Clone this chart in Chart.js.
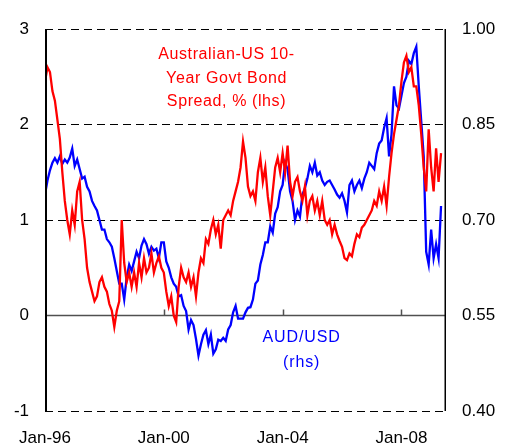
<!DOCTYPE html>
<html>
<head>
<meta charset="utf-8">
<script src="https://cdn.jsdelivr.net/npm/chart.js@4"></script>
<style>
html,body{margin:0;padding:0;background:#fff;}
#wrap{position:relative;width:513px;height:443px;}
</style>
</head>
<body>
<div id="wrap"><canvas id="c" width="513" height="443"></canvas></div>
<script>
// ---- data (monthly, starting Jan-1996) ----
const startYear = 1996;
const xTickYears = [1996, 2000, 2004, 2008];
const xTickLabels = ['Jan-96', 'Jan-00', 'Jan-04', 'Jan-08'];
const lhsTicks = [-1, 0, 1, 2, 3];
const rhsTicks = [0.40, 0.55, 0.70, 0.85, 1.00];

// Australian-US 10-year govt bond spread, % (lhs)
const spread = [
  2.45, 2.6, 2.55, 2.35, 2.25, 2.05, 1.85, 1.5, 1.2, 1.0, 0.85, 1.1,
  0.95, 1.3, 1.4, 1.0, 0.8, 0.5, 0.35, 0.25, 0.15, 0.2, 0.35, 0.4,
  0.3, 0.25, 0.12, 0.05, -0.12, 0.05, 0.15, 1.0, 0.55, 0.35, 0.45, 0.3,
  0.45, 0.3, 0.55, 0.4, 0.6, 0.45, 0.5, 0.65, 0.45, 0.55, 0.62, 0.5,
  0.45, 0.25, 0.1, 0.2, 0.0, -0.07, 0.3, 0.5, 0.4, 0.35, 0.45, 0.3,
  0.4, 0.2, 0.45, 0.6, 0.55, 0.8, 0.75, 0.9, 1.0, 0.85, 0.95, 0.7,
  1.0, 1.05, 1.1, 1.05, 1.2, 1.3, 1.4, 1.55, 1.82, 1.65, 1.35, 1.25,
  1.3, 1.2, 1.5, 1.65, 1.4, 1.55, 1.25, 1.05, 1.3, 1.55, 1.65, 1.5,
  1.7, 1.5, 1.78, 1.4, 1.25, 1.4, 1.45, 1.3, 1.2, 1.35, 1.05, 1.2,
  1.25, 1.1, 1.2, 1.05, 1.2, 1.0, 0.95, 1.0, 0.85, 0.95, 0.85, 0.78,
  0.72, 0.6, 0.58, 0.65, 0.62, 0.75, 0.85, 0.82, 0.92, 0.95, 1.0, 1.05,
  1.1, 1.2, 1.15, 1.3, 1.2, 1.35, 1.15, 1.45, 1.7, 1.9, 2.05, 2.2,
  2.45, 2.65, 2.72, 2.55, 2.6, 2.4, 2.4, 2.2, 1.9, 1.55, 1.3, 1.95,
  1.55, 1.3, 1.75, 1.4, 1.7
];

// AUD/USD (rhs)
const audusd = [
  0.740, 0.762, 0.778, 0.790, 0.797, 0.790, 0.800, 0.788, 0.795, 0.790, 0.798, 0.812,
  0.785, 0.795, 0.780, 0.765, 0.768, 0.752, 0.745, 0.730, 0.722, 0.715, 0.700, 0.685,
  0.685, 0.670, 0.665, 0.658, 0.640, 0.620, 0.600, 0.600, 0.575, 0.610, 0.630, 0.620,
  0.635, 0.650, 0.640, 0.660, 0.670, 0.662, 0.647, 0.658, 0.652, 0.655, 0.640, 0.665,
  0.665, 0.635, 0.625, 0.610, 0.600, 0.595, 0.580, 0.582, 0.565, 0.557, 0.528, 0.543,
  0.535, 0.513, 0.487, 0.505, 0.520, 0.527, 0.505, 0.520, 0.490, 0.497, 0.512, 0.510,
  0.515, 0.510, 0.528, 0.535, 0.555, 0.565, 0.545, 0.545, 0.545, 0.555, 0.562, 0.563,
  0.575, 0.600, 0.605, 0.630, 0.645, 0.665, 0.665, 0.690, 0.680, 0.710, 0.720, 0.745,
  0.755, 0.790, 0.780, 0.745, 0.730, 0.700, 0.715, 0.705, 0.740, 0.750, 0.765, 0.785,
  0.775, 0.790, 0.770, 0.775, 0.762, 0.755, 0.760, 0.762, 0.755, 0.748, 0.740, 0.735,
  0.742, 0.730, 0.712, 0.755, 0.762, 0.745, 0.755, 0.762, 0.750, 0.765, 0.775, 0.790,
  0.785, 0.780, 0.805, 0.820, 0.825, 0.845, 0.860, 0.800, 0.835, 0.910, 0.880, 0.875,
  0.895, 0.915, 0.925, 0.950, 0.945, 0.962, 0.972, 0.910, 0.855, 0.800, 0.650, 0.630,
  0.685, 0.640, 0.662, 0.640, 0.722
];

const spreadLabel = ['Australian-US 10-', 'Year Govt Bond', 'Spread, % (lhs)'];
const audLabel = ['AUD/USD', '(rhs)'];

// build point tables
const spreadPts = spread.map((v, i) => ({x: startYear + i / 12, y: v}));
const audPts = audusd.map((v, i) => ({x: startYear + i / 12, y: v}));

const FONT = "'Liberation Sans', Arial, sans-serif";

const decor = {
  id: 'decor',
  beforeDatasetsDraw(chart) {
    const {ctx, chartArea: a, scales: {x, y}} = chart;
    const y0 = y.getPixelForValue(0);
    ctx.save();
    ctx.strokeStyle = '#505050';
    ctx.lineWidth = 1.5;
    ctx.beginPath();
    ctx.moveTo(a.left, y0);
    ctx.lineTo(a.right, y0);
    xTickYears.slice(1).forEach(yr => {
      const px = Math.round(x.getPixelForValue(yr)) + 0.5;
      ctx.moveTo(px, y0);
      ctx.lineTo(px, y0 - 6);
    });
    ctx.stroke();
    ctx.restore();
  },
  afterDatasetsDraw(chart) {
    const {ctx, chartArea: a, scales: {x, y}} = chart;
    ctx.save();
    ctx.strokeStyle = '#000';
    ctx.lineWidth = 2;
    ctx.beginPath();
    ctx.moveTo(a.left + 1, a.top);
    ctx.lineTo(a.left + 1, a.bottom);
    ctx.stroke();
    ctx.lineWidth = 1.5;
    ctx.beginPath();
    ctx.moveTo(a.right - 0.75, a.top);
    ctx.lineTo(a.right - 0.75, a.bottom);
    ctx.stroke();

    ctx.font = '16px ' + FONT;
    ctx.textAlign = 'center';
    ctx.textBaseline = 'middle';
    if ('letterSpacing' in ctx) ctx.letterSpacing = '0.6px';
    ctx.fillStyle = '#ff0000';
    const cx = x.getPixelForValue(2002.11);
    spreadLabel.forEach((t, i) => {
      ctx.fillText(t, cx, y.getPixelForValue(2.73) + i * 23.5);
    });
    ctx.fillStyle = '#0000ff';
    if ('letterSpacing' in ctx) ctx.letterSpacing = '0.9px';
    const bx = x.getPixelForValue(2004.64);
    audLabel.forEach((t, i) => {
      ctx.fillText(t, bx, y.getPixelForValue(-0.23) + i * 25);
    });
    ctx.restore();
  }
};

new Chart(document.getElementById('c'), {
  type: 'line',
  data: {
    datasets: [
      {label: 'Spread', data: spreadPts, yAxisID: 'y', borderColor: '#ff0000', borderWidth: 2.3, pointRadius: 0, tension: 0},
      {label: 'AUD/USD', data: audPts, yAxisID: 'y1', borderColor: '#0000ff', borderWidth: 2.3, pointRadius: 0, tension: 0}
    ]
  },
  options: {
    responsive: false,
    animation: false,
    events: [],
    layout: {padding: {top: 29, left: 0, right: 0, bottom: 0}},
    plugins: {legend: {display: false}, tooltip: {enabled: false}},
    scales: {
      x: {
        type: 'linear', min: 1996, max: 2009.5,
        afterBuildTicks: s => { s.ticks = xTickYears.map(v => ({value: v})); },
        afterFit: s => { s.height = 32; },
        grid: {display: false, drawTicks: false},
        border: {display: false},
        ticks: {
          autoSkip: false, maxRotation: 0, padding: 17, color: '#000',
          font: {family: FONT, size: 17},
          callback: v => xTickLabels[xTickYears.indexOf(v)]
        }
      },
      y: {
        position: 'left', min: -1, max: 3,
        afterBuildTicks: s => { s.ticks = lhsTicks.map(v => ({value: v})); },
        afterFit: s => { s.width = 45; },
        grid: {drawTicks: false, lineWidth: 1,
          color: c => (c.tick && c.tick.value === 0) ? 'rgba(0,0,0,0)' : '#000'},
        border: {display: false, dash: [8, 5]},
        ticks: {padding: 16, color: '#000', font: {family: FONT, size: 17},
          callback: v => String(v)}
      },
      y1: {
        position: 'right', min: 0.40, max: 1.00,
        afterBuildTicks: s => { s.ticks = rhsTicks.map(v => ({value: v})); },
        afterFit: s => { s.width = 67; },
        grid: {display: false, drawTicks: false},
        border: {display: false},
        ticks: {padding: 16, color: '#000', font: {family: FONT, size: 17},
          callback: v => Number(v).toFixed(2)}
      }
    }
  },
  plugins: [decor]
});
</script>
</body>
</html>
